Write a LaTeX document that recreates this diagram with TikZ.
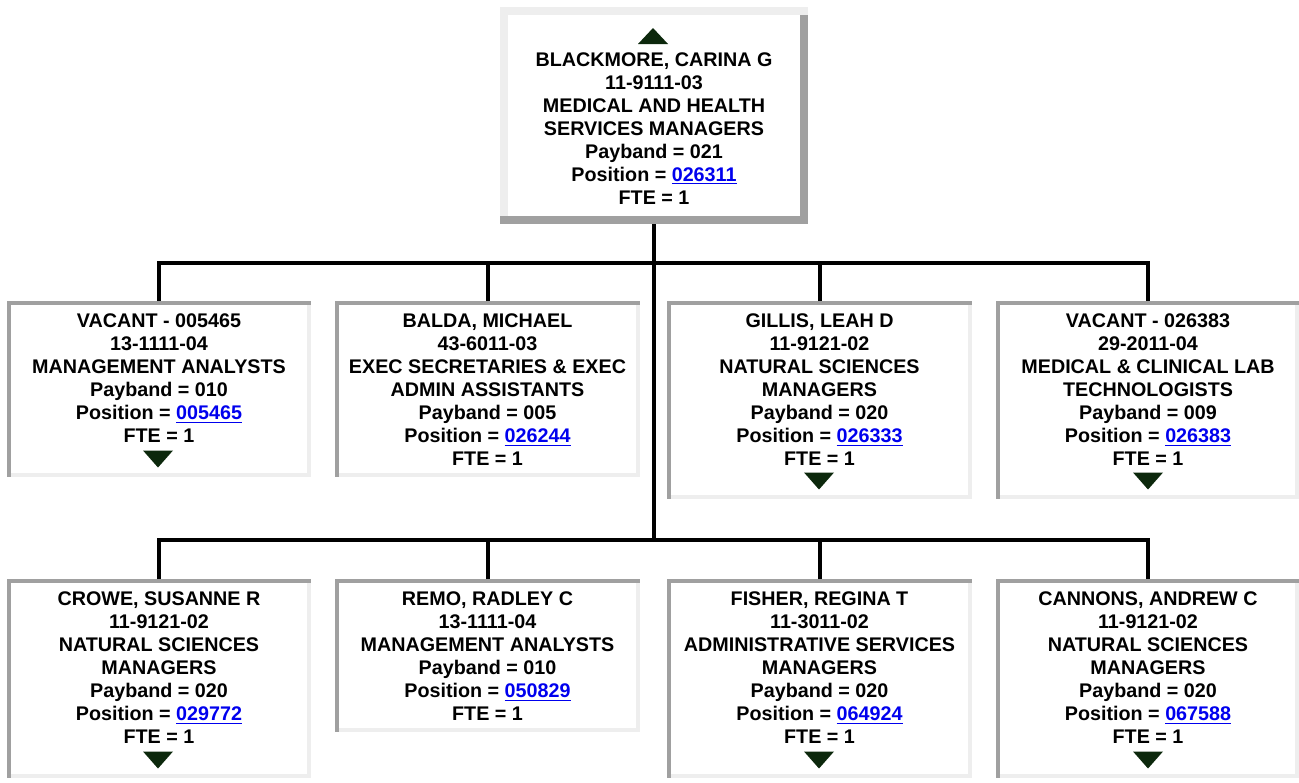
\documentclass[tikz,border=0pt]{standalone}
\usepackage{fontspec}
\setmainfont{Liberation Sans}
\usetikzlibrary{fit}
\definecolor{dk}{RGB}{160,160,160}
\definecolor{lt}{RGB}{238,238,238}
\definecolor{lnk}{RGB}{0,0,238}
\definecolor{tri}{RGB}{12,40,12}
\newcommand\lnk[1]{\textcolor{lnk}{\underline{#1}}}
\newcommand\inframe[1]{%
  \fill[white] (#1.north west) rectangle (#1.south east);
  \fill[lt] ([yshift=3pt]#1.south west) rectangle (#1.south east);
  \fill[lt] ([xshift=-3pt]#1.north east) rectangle (#1.south east);
  \fill[dk] (#1.north west) rectangle ([yshift=-3pt]#1.north east);
  \fill[dk] (#1.north west) rectangle ([xshift=3pt]#1.south west);
}
\newcommand\outframe[1]{%
  \fill[white] (#1.north west) rectangle (#1.south east);
  \fill[dk] ([xshift=-6pt]#1.north east) rectangle (#1.south east);
  \fill[lt] (#1.north west) rectangle ([yshift=-6pt]#1.north east);
  \fill[lt] (#1.north west) rectangle ([xshift=6pt]#1.south west);
  \fill[dk] ([yshift=6pt]#1.south west) rectangle (#1.south east);
}
\newcommand\downtri[2]{\fill[tri] ({#1-15},{#2-8.5}) -- ({#1+15},{#2-8.5}) -- (#1,{#2+8.5}) -- cycle;}
\newcommand\uptri[2]{\fill[tri] ({#1-15},{#2+8}) -- ({#1+15},{#2+8}) -- (#1,{#2-8}) -- cycle;}
\tikzset{
  frame/.style={inner sep=0pt, outer sep=0pt},
  txt/.style={anchor=north, inner sep=0pt, align=center,
    font=\fontsize{14.8pt}{17.3pt}\selectfont\bfseries},
  conn/.style={line width=3pt, line join=miter},
}
\begin{document}
\begin{tikzpicture}[x=0.75pt, y=-0.75pt]
\useasboundingbox[fill=white] (0,0) rectangle (1299,782);
% box nodes
\node[fit={(500,7) (808,224)}, frame] (top) {};
\node[fit={(7,301) (311,477)}, frame] (b1) {};
\node[fit={(335,301) (640,477)}, frame] (b2) {};
\node[fit={(667,301) (972,499)}, frame] (b3) {};
\node[fit={(996,301) (1299,499)}, frame] (b4) {};
\node[fit={(7,579) (311,778)}, frame] (c1) {};
\node[fit={(335,579) (640,732)}, frame] (c2) {};
\node[fit={(667,579) (972,778)}, frame] (c3) {};
\node[fit={(996,579) (1299,778)}, frame] (c4) {};
\outframe{top}
\inframe{b1}\inframe{b2}\inframe{b3}\inframe{b4}
\inframe{c1}\inframe{c2}\inframe{c3}\inframe{c4}
% connectors
\coordinate (j1) at (654,263);
\coordinate (j2) at (654,540);
\draw[conn] (top.south) -- (j2);
\draw[conn] (b1.north) -- (b1.north |- j1) -- (b4.north |- j1) -- (b4.north);
\draw[conn] (b2.north) -- (b2.north |- j1);
\draw[conn] (b3.north) -- (b3.north |- j1);
\draw[conn] (c1.north) -- (c1.north |- j2) -- (c4.north |- j2) -- (c4.north);
\draw[conn] (c2.north) -- (c2.north |- j2);
\draw[conn] (c3.north) -- (c3.north |- j2);
% texts
\node[txt] (ttop) at (654,52) {BLACKMORE, CARINA G\\11-9111-03\\MEDICAL AND HEALTH\\SERVICES MANAGERS\\Payband = 021\\Position = \lnk{026311}\\FTE = 1};
\node[txt] (tb1) at (159,313.5) {VACANT - 005465\\13-1111-04\\MANAGEMENT ANALYSTS\\Payband = 010\\Position = \lnk{005465}\\FTE = 1};
\node[txt] (tb2) at (487.5,313.5) {BALDA, MICHAEL\\43-6011-03\\EXEC SECRETARIES \& EXEC\\ADMIN ASSISTANTS\\Payband = 005\\Position = \lnk{026244}\\FTE = 1};
\node[txt] (tb3) at (819.5,313.5) {GILLIS, LEAH D\\11-9121-02\\NATURAL SCIENCES\\MANAGERS\\Payband = 020\\Position = \lnk{026333}\\FTE = 1};
\node[txt] (tb4) at (1148,313.5) {VACANT - 026383\\29-2011-04\\MEDICAL \& CLINICAL LAB\\TECHNOLOGISTS\\Payband = 009\\Position = \lnk{026383}\\FTE = 1};
\node[txt] (tc1) at (159,591.5) {CROWE, SUSANNE R\\11-9121-02\\NATURAL SCIENCES\\MANAGERS\\Payband = 020\\Position = \lnk{029772}\\FTE = 1};
\node[txt] (tc2) at (487.5,591.5) {REMO, RADLEY C\\13-1111-04\\MANAGEMENT ANALYSTS\\Payband = 010\\Position = \lnk{050829}\\FTE = 1};
\node[txt] (tc3) at (819.5,591.5) {FISHER, REGINA T\\11-3011-02\\ADMINISTRATIVE SERVICES\\MANAGERS\\Payband = 020\\Position = \lnk{064924}\\FTE = 1};
\node[txt] (tc4) at (1148,591.5) {CANNONS, ANDREW C\\11-9121-02\\NATURAL SCIENCES\\MANAGERS\\Payband = 020\\Position = \lnk{067588}\\FTE = 1};
% triangles
\uptri{653}{36}
\downtri{158}{459}
\downtri{819}{481}
\downtri{1148}{481}
\downtri{158}{760}
\downtri{819}{760}
\downtri{1148}{760}
\end{tikzpicture}
\end{document}
